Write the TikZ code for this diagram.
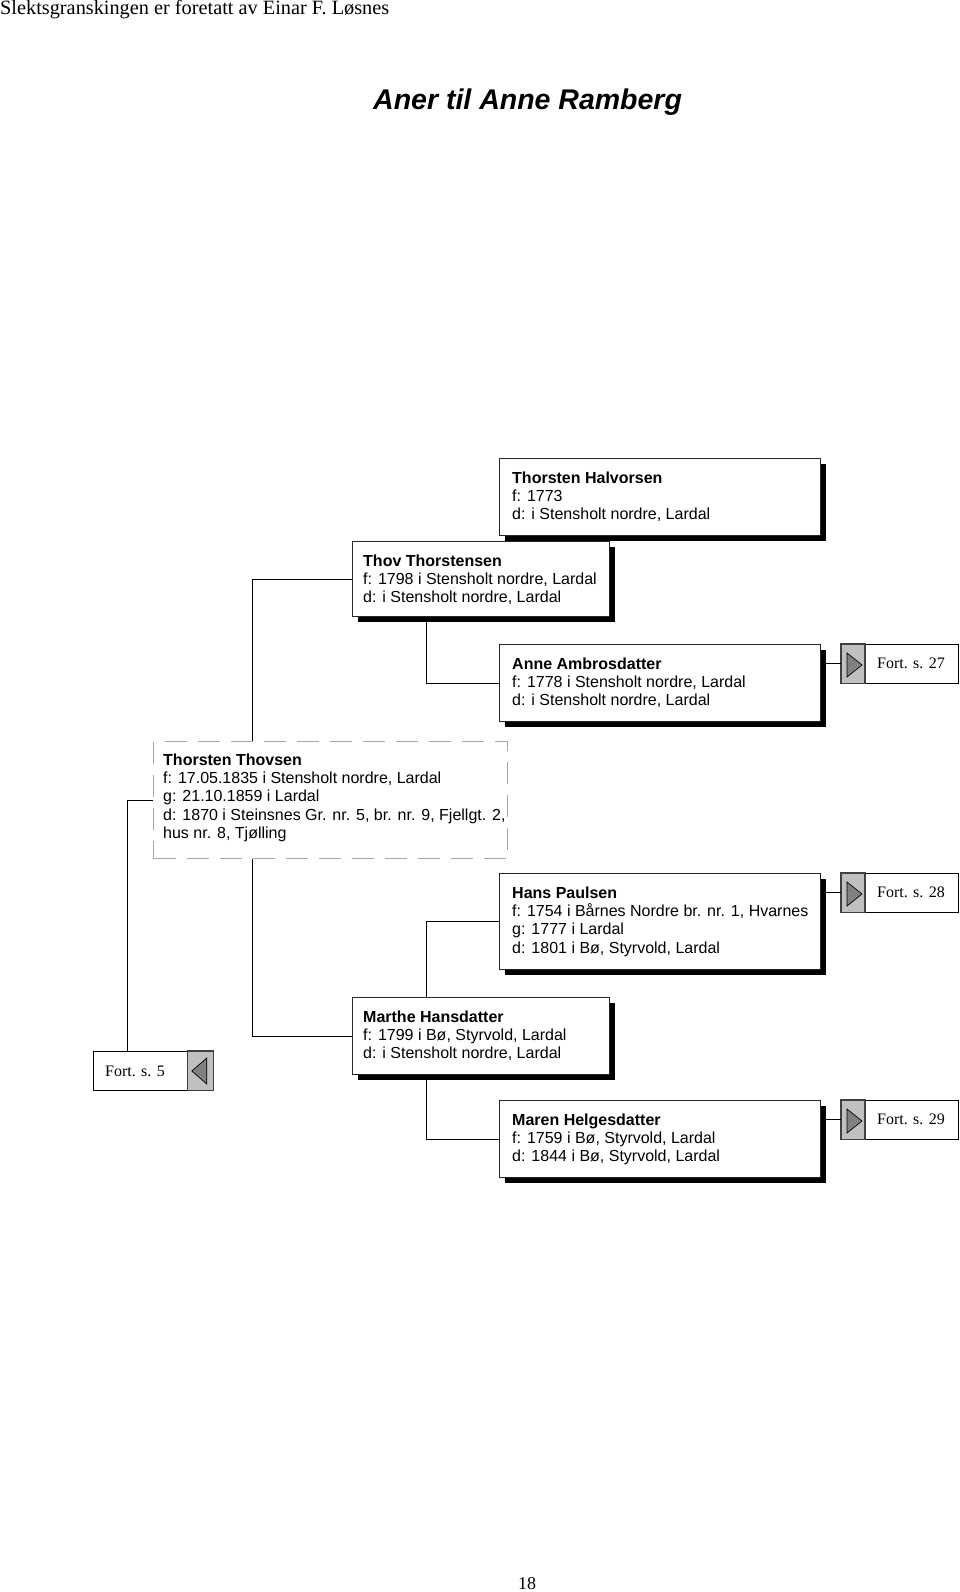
\documentclass[tikz,border=0pt]{standalone}
\usepackage{fontspec}
\setmainfont{Liberation Serif}
\setsansfont{Liberation Sans}
\usetikzlibrary{shadows,calc}
\definecolor{btngray}{HTML}{C0C0C0}
\definecolor{trigray}{HTML}{808080}
\begin{document}
\begin{tikzpicture}[x=1pt,y=-1pt,
  person/.style={draw=black!85, line width=1pt, fill=white, anchor=north west, inner sep=0pt,
    drop shadow={shadow xshift=5pt, shadow yshift=-5pt, fill=black, opacity=1}},
  dashbox/.style={draw=black!35, line width=1pt, dash pattern=on 22pt off 11pt, anchor=north west, inner sep=0pt},
  ptext/.style={anchor=north west, inner sep=0pt, align=left, font=\sffamily\fontsize{16}{18.3}\selectfont},
  fort/.style={draw=black, line width=0.8pt, fill=white, anchor=north west, inner sep=0pt, minimum width=117pt, minimum height=39pt},
  ftext/.style={anchor=base west, inner sep=0pt, font=\fontsize{16}{18}\selectfont},
  btn/.style={fill=btngray, draw=black!75, line width=1.1pt},
  tri/.style={fill=trigray, draw=black, line width=0.7pt},
  conn/.style={draw=black, line width=1pt}]
\useasboundingbox (0,0) rectangle (960,1592);

% header, title, page number
\node[anchor=base west, inner sep=0pt, font=\fontsize{20.3}{22}\selectfont] (header) at (0,15) {Slektsgranskingen er foretatt av Einar F. Løsnes};
\node[anchor=base west, inner sep=0pt, font=\sffamily\bfseries\itshape\fontsize{28.5}{30}\selectfont] (title) at (373,110) {Aner til Anne Ramberg};
\node[anchor=base, inner sep=0pt, font=\fontsize{18}{20}\selectfont] (page) at (527,1589) {18};

% person boxes
\node[person, minimum width=321pt, minimum height=77pt] (b1) at (499,458) {};
\node[person, minimum width=257pt, minimum height=75pt] (b2) at (352,541) {};
\node[person, minimum width=321pt, minimum height=77pt] (b3) at (499,644) {};
\node[dashbox, minimum width=354pt, minimum height=117pt] (b4) at (153,741) {};
\node[person, minimum width=321pt, minimum height=96pt] (b5) at (499,873) {};
\node[person, minimum width=257pt, minimum height=77pt] (b6) at (352,997) {};
\node[person, minimum width=321pt, minimum height=77pt] (b7) at (499,1100) {};

% texts
\node[ptext] (t1) at ($(b1.north west)+(13,12)$) {\rule{0pt}{13pt}\textbf{Thorsten Halvorsen}\\f: 1773\\d: i Stensholt nordre, Lardal};
\node[ptext] (t2) at ($(b2.north west)+(11,12)$) {\rule{0pt}{13pt}\textbf{Thov Thorstensen}\\f: 1798 i Stensholt nordre, Lardal\\d: i Stensholt nordre, Lardal};
\node[ptext] (t3) at ($(b3.north west)+(13,12)$) {\rule{0pt}{13pt}\textbf{Anne Ambrosdatter}\\f: 1778 i Stensholt nordre, Lardal\\d: i Stensholt nordre, Lardal};
\node[ptext] (t4) at ($(b4.north west)+(10,11)$) {\rule{0pt}{13pt}\textbf{Thorsten Thovsen}\\f: 17.05.1835 i Stensholt nordre, Lardal\\g: 21.10.1859 i Lardal\\d: 1870 i Steinsnes Gr. nr. 5, br. nr. 9, Fjellgt. 2,\\hus nr. 8, Tjølling};
\node[ptext] (t5) at ($(b5.north west)+(13,12)$) {\rule{0pt}{13pt}\textbf{Hans Paulsen}\\f: 1754 i Bårnes Nordre br. nr. 1, Hvarnes\\g: 1777 i Lardal\\d: 1801 i Bø, Styrvold, Lardal};
\node[ptext] (t6) at ($(b6.north west)+(11,12)$) {\rule{0pt}{13pt}\textbf{Marthe Hansdatter}\\f: 1799 i Bø, Styrvold, Lardal\\d: i Stensholt nordre, Lardal};
\node[ptext] (t7) at ($(b7.north west)+(13,12)$) {\rule{0pt}{13pt}\textbf{Maren Helgesdatter}\\f: 1759 i Bø, Styrvold, Lardal\\d: 1844 i Bø, Styrvold, Lardal};

% continuation boxes
\foreach \n/\x/\y/\p in {f27/841/644/27, f28/841/873/28, f29/841/1100/29}{
  \node[fort] (\n) at (\x,\y) {};
  \draw[btn] (\n.north west) rectangle ($(\n.south west)+(24,0)$);
  \draw[tri] ($(\n.north west)+(6,9)$) -- ($(\n.north west)+(21,21)$) -- ($(\n.north west)+(6,33)$) -- cycle;
  \node[ftext] (\n t) at ($(\n.north west)+(36,24)$) {Fort. s. \p};
}
\node[fort, minimum width=120pt] (f5) at (93,1051) {};
\draw[btn] ($(f5.north east)+(-26,0)$) rectangle (f5.south east);
\draw[tri] ($(f5.north east)+(-7,7)$) -- ($(f5.north east)+(-22,20)$) -- ($(f5.north east)+(-7,33)$) -- cycle;
\node[ftext] (f5t) at ($(f5.north west)+(12,25)$) {Fort. s. 5};

% connectors
\draw[conn] (b2.west) -| ($(b4.north west)+(99,0)$);
\draw[conn] ($(b2.south west)+(74,0)$) |- (b3.west);
\draw[conn] ($(b4.south west)+(99,0)$) |- (b6.west);
\draw[conn] ($(b6.north west)+(74,0)$) |- (b5.west);
\draw[conn] ($(b6.south west)+(74,0)$) |- (b7.west);
\draw[conn] (b4.west) -| ($(f5.north west)+(34,0)$);
\draw[conn] (f27.west) -- (f27.west -| b3.east);
\draw[conn] (f28.west) -- (f28.west -| b5.east);
\draw[conn] (f29.west) -- (f29.west -| b7.east);
\end{tikzpicture}
\end{document}
